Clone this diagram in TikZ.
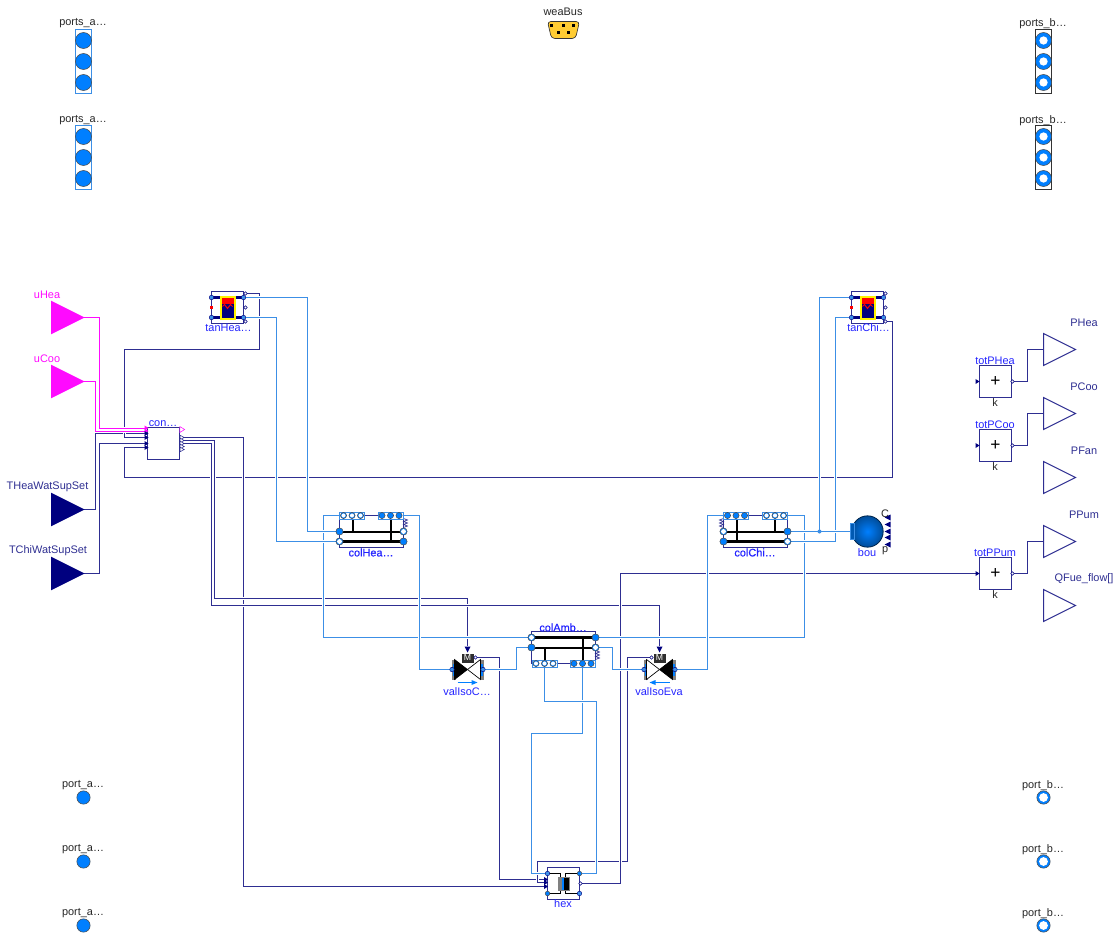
\documentclass[tikz,border=0pt]{standalone}
\usepackage{fontspec}
\setmainfont{Liberation Sans}
\newfontfamily\heavyfont[FakeBold=0.5]{Liberation Sans}
\usetikzlibrary{shapes.geometric}
\pgfdeclarelayer{wires}
\pgfsetlayers{wires,main}
\definecolor{wirenavy}{RGB}{46,46,145}
\definecolor{wireblue}{RGB}{60,143,230}
\definecolor{wiremag}{RGB}{255,10,255}
\definecolor{portblue}{RGB}{0,127,255}
\definecolor{darknavy}{RGB}{0,0,127}
\definecolor{labelblue}{RGB}{35,35,255}
\definecolor{busyellow}{RGB}{255,204,51}
\newcommand{\labelsize}{\fontsize{8.2}{10}\selectfont}
\tikzset{
  bare/.style={inner sep=0pt,outer sep=0pt},
  textlabel/.style={bare,font=\labelsize,text=black!85,xshift=-.35pt},
  bluelabel/.style={bare,font=\labelsize,text=labelblue,xshift=-.35pt},
  navylabel/.style={bare,font=\labelsize,text=wirenavy,xshift=-.35pt},
  maglabel/.style={bare,font=\labelsize,text=wiremag,xshift=-.35pt},
  heavylabel/.style={bare,font=\heavyfont\labelsize,text=labelblue,xshift=-.35pt},
  bigtri/.style={bare,isosceles triangle,isosceles triangle stretches,minimum width=24pt,minimum height=24pt,anchor=apex,line width=.75pt},
  blockbox/.style={bare,draw=wirenavy,fill=white,line width=.75pt,minimum size=24pt},
  stackbox/.style={bare,draw=#1,fill=white,line width=.75pt,minimum width=12pt,minimum height=48pt},
  largefull/.style={bare,circle,draw=black!70,fill=portblue,line width=.4pt,minimum size=#1},
  largeopen/.style={bare,circle,draw=black!70,fill=portblue,line width=.4pt,minimum size=#1,
    path picture={\fill[white] (path picture bounding box.center) circle (.26*#1);}},
  thinopen/.style={bare,circle,draw=black!70,fill=portblue,line width=.4pt,minimum size=#1,
    path picture={\fill[white] (path picture bounding box.center) circle (.33*#1);}},
  sidefull/.style={largefull=5.4pt},
  sideopen/.style={thinopen=5.4pt},
  rowfull/.style={largefull=4.6pt},
  rowopen/.style={thinopen=4.6pt},
  groupbox/.style={bare,draw=wireblue,fill=white,line width=.5pt,minimum width=18.75pt,minimum height=5.2pt},
  inmark/.style={bare,isosceles triangle,isosceles triangle stretches,minimum width=3.8pt,minimum height=3pt,fill=darknavy,anchor=apex},
  magmark/.style={inmark,fill=wiremag},
  outmark/.style={bare,isosceles triangle,isosceles triangle stretches,minimum width=3.2pt,minimum height=3pt,draw=wirenavy,fill=white,line width=.4pt},
  magout/.style={outmark,draw=wiremag,minimum width=4.5pt,minimum height=3.6pt},
  boumark/.style={inmark,shape border rotate=180,minimum width=4.5pt,minimum height=4.5pt},
  tinyport/.style={bare,circle,draw=darknavy,fill=white,line width=.4pt,minimum size=2.6pt},
  tinyblue/.style={bare,circle,draw=darknavy,fill=wireblue,line width=.3pt,minimum size=3.4pt},
  sigline/.style={wirenavy,line width=.75pt,preaction={draw,white,line width=2.25pt}},
  fluidline/.style={wireblue,line width=.75pt,preaction={draw,white,line width=2.25pt}},
  magline/.style={wiremag,line width=.75pt,preaction={draw,white,line width=2.25pt}},
  thinbar/.style={black,line width=1.5pt},
  thickbar/.style={black,line width=2.25pt},
}
\newcommand{\portrow}[4]{%
  \node[groupbox] (#1) at (#2,#3) {};
  \foreach \dx/\pidx in {-8.5/1,0/2,8.5/3}
    \node[#4] (#1\pidx) at (#2+\dx,#3) {};
}
\newcommand{\springmark}[3]{%
  \draw[wirenavy,line width=.5pt,shift={(#1,#2)},xscale=#3] (0,0) -- (4,1.5) -- (0,3) -- (4,4.5) -- (0,6) -- (4,7.5) -- (0,9);
}
\begin{document}
\begin{tikzpicture}[x=0.75pt,y=-0.75pt]
  \useasboundingbox (-.5,-.5) rectangle (1119.5,937.5);

  % fluid port stacks
  \foreach \pname/\py in {portsAOne/61,portsATwo/157} {
    \node[stackbox=wireblue] (\pname) at (83,\py) {};
    \foreach \dy/\pidx in {-21/1,0/2,21/3}
      \node[largefull=12pt] (\pname\pidx) at (83,\py+\dy) {};
  }
  \foreach \pname/\py in {portsBOne/61,portsBTwo/157} {
    \node[stackbox=black!80] (\pname) at (1043,\py) {};
    \foreach \dy/\pidx in {-21/1,0/2,21/3}
      \node[largeopen=12pt] (\pname\pidx) at (1043,\py+\dy) {};
  }
  \node[textlabel] (portsAOneText) at (83,23) {ports\_a…};
  \node[textlabel] (portsATwoText) at (83,120) {ports\_a…};
  \node[textlabel] (portsBOneText) at (1043,23) {ports\_b…};
  \node[textlabel] (portsBTwoText) at (1043,120) {ports\_b…};

  \foreach \py/\pidx in {797/1,861/2,925/3} {
    \node[largefull=10pt] (portA\pidx) at (83,\py) {};
    \node[thinopen=10pt] (portB\pidx) at (1043,\py) {};
    \node[textlabel] (portAText\pidx) at (83,\py-12) {port\_a…};
    \node[textlabel] (portBText\pidx) at (1043,\py-12) {port\_b…};
  }

  % weather bus
  \node[textlabel] (weaBusText) at (563,11) {weaBus};
  \draw[black!80,fill=busyellow,line width=.5pt,rounded corners=2.5pt] (547,21) -- (579,21) -- (575,38) -- (551,38) -- cycle;
  \foreach \bx/\by in {551/25,563/25,573/25,558/32,568/32}
    \fill[black] (\bx-1.5,\by-1.5) rectangle (\bx+1.5,\by+1.5);

  % inputs and outputs
  \node[bigtri,fill=wiremag,draw=wiremag] (uHea) at (83,317) {};
  \node[bigtri,fill=wiremag,draw=wiremag] (uCoo) at (83,381) {};
  \node[bigtri,fill=darknavy,draw=darknavy] (THeaWatSupSet) at (83,509) {};
  \node[bigtri,fill=darknavy,draw=darknavy] (TChiWatSupSet) at (83,573) {};
  \node[maglabel] (uHeaText) at (47,294) {uHea};
  \node[maglabel] (uCooText) at (47,358) {uCoo};
  \node[navylabel] (THeaText) at (47.5,486) {THeaWatSupSet};
  \node[navylabel] (TChiText) at (48,550) {TChiWatSupSet};

  \foreach \oname/\oy/\otext in {PHea/349/PHea,PCoo/413/PCoo,PFan/477/PFan,PPum/541/PPum,QFue/605/QFue\_flow[]} {
    \node[bigtri,draw=wirenavy,fill=white] (\oname) at (1075,\oy) {};
    \node[navylabel] (\oname Text) at (1084,\oy-27) {\otext};
  }

  \foreach \sname/\sy in {totPHea/381,totPCoo/445,totPPum/573} {
    \node[blockbox,font=\fontsize{13}{13}\selectfont] (\sname) at (995,\sy) {+};
    \node[bluelabel] (\sname Text) at (995,\sy-21) {\sname};
    \node[textlabel] (\sname Gain) at (995,\sy+21) {k};
    \node[inmark] (\sname In) at (979,\sy) {};
    \node[tinyport] (\sname Out) at (1012,\sy) {};
  }

  % controller
  \node[blockbox] (con) at (163,443) {};
  \node[bluelabel] (conText) at (163,423) {con…};
  \foreach \iy/\pidx in {427.5/1,430.5/2} \node[magmark] (conIn\pidx) at (148,\iy) {};
  \foreach \iy/\pidx in {433/3,437/4,443/5,447/6} \node[inmark] (conIn\pidx) at (148,\iy) {};
  \node[magout] (conMag) at (181,429) {};
  \foreach \iy/\pidx in {437/1,440/2,443/3,446/4,449/5} \node[outmark] (conOut\pidx) at (181,\iy) {};

  % storage tanks
  \foreach \tname/\tx/\ttext in {tanHea/227/tanHea…,tanChi/867/tanChi…} {
    \begin{scope}[shift={(\tx,307)}]
      \node[blockbox] (\tname) at (0,0) {};
      \draw[darknavy,line width=2.2pt] (-16,-10) -- (16,-10) (-16,10) -- (16,10);
      \filldraw[draw=yellow,fill=darknavy,line width=1.5pt] (-7,-11) rectangle (7,11);
      \fill[red] (-6,-10) rectangle (6,-4);
      \draw[red,line width=.7pt] (-5,-1) -- (-3,-3) -- (0,1) -- (3,-3) -- (5,-1);
      \node[tinyblue] (\tname B1) at (-16,-10) {};
      \node[tinyblue] (\tname B2) at (-16,10) {};
      \node[tinyblue] (\tname A1) at (16,-10) {};
      \node[tinyblue] (\tname A2) at (16,10) {};
      \node[bare,fill=red,minimum size=1.8pt] (\tname Heat) at (-16,0) {};
      \node[tinyport] (\tname Out1) at (18,-14) {};
      \node[tinyport] (\tname Out2) at (18,0) {};
      \node[tinyport] (\tname Out3) at (18,14) {};
      \node[bluelabel] (\tname Text) at (1.5,20) {\ttext};
    \end{scope}
  }

  % heating column
  \draw[wirenavy,line width=.75pt] (339,515) rectangle (403,547);
  \draw[thinbar] (339,531) -- (403,531) (352,515) -- (352,531);
  \draw[thickbar] (339,541) -- (403,541);
  \draw[thinbar] (390,515) -- (390,541);
  \springmark{403}{518}{1}
  \portrow{colHeaTopA}{351.5}{515}{rowopen}
  \portrow{colHeaTopB}{390}{515}{rowfull}
  \node[sidefull] (colHeaA1) at (339,531) {};
  \node[sideopen] (colHeaB1) at (339,541) {};
  \node[sideopen] (colHeaA2) at (403,531) {};
  \node[sidefull] (colHeaB2) at (403,541) {};
  \node[heavylabel] (colHeaText) at (371,552) {colHea…};

  % chilled water column
  \draw[wirenavy,line width=.75pt] (723,515) rectangle (787,547);
  \draw[thinbar] (723,531) -- (787,531) (774,515) -- (774,531);
  \draw[thickbar] (723,541) -- (787,541);
  \draw[thinbar] (736,515) -- (736,541);
  \springmark{723}{518}{-1}
  \portrow{colChiTopA}{735.5}{515}{rowfull}
  \portrow{colChiTopB}{774.5}{515}{rowopen}
  \node[sideopen] (colChiA1) at (723,531) {};
  \node[sidefull] (colChiB1) at (723,541) {};
  \node[sidefull] (colChiA2) at (787,531) {};
  \node[sideopen] (colChiB2) at (787,541) {};
  \node[heavylabel] (colChiText) at (755,552) {colChi…};

  % ambient column
  \draw[wirenavy,line width=.75pt] (531,631) rectangle (595,663);
  \draw[thickbar] (531,637) -- (595,637);
  \draw[thinbar] (531,647) -- (595,647) (544,647) -- (544,663);
  \draw[thinbar] (582,637) -- (582,663);
  \springmark{595}{650}{1}
  \portrow{colAmbBotA}{544}{663}{rowopen}
  \portrow{colAmbBotB}{582}{663}{rowfull}
  \node[sideopen] (colAmbA1) at (531,637) {};
  \node[sidefull] (colAmbB1) at (531,647) {};
  \node[sidefull] (colAmbA2) at (595,637) {};
  \node[sideopen] (colAmbB2) at (595,647) {};
  \node[heavylabel] (colAmbText) at (563,627) {colAmb…};

  % isolation valves
  \foreach \vname/\vx/\vflip/\vtext in {valIsoCon/467/1/valIsoC…,valIsoEva/659/-1/valIsoEva} {
    \begin{scope}[shift={(\vx,669)},xscale=\vflip]
      \fill[gray] (-16,-10) rectangle (-12,10);
      \fill[gray] (12,-10) rectangle (16,10);
      \fill[portblue] (-15,-6) rectangle (-12,6);
      \fill[portblue] (12,-6) rectangle (15,6);
      \filldraw[black,line width=.5pt] (0,0) -- (-13,-10) -- (-13,10) -- cycle;
      \draw[black,fill=white,line width=.5pt] (0,0) -- (13,-10) -- (13,10) -- cycle;
      \node[bare,fill=black!82,text=white,font=\fontsize{6.5}{6.5}\selectfont,minimum width=9pt,minimum height=6.75pt] (\vname Motor) at (0,-11.5) {M};
      \fill[darknavy] (-3,-23) -- (3,-23) -- (0,-17) -- cycle;
      \node[bare,minimum size=.5pt] (\vname In) at (0,-23) {};
      \node[tinyport] (\vname Out) at (8,-12) {};
      \node[tinyblue] (\vname A) at (-15.5,0) {};
      \node[tinyblue] (\vname B) at (15.5,0) {};
      \draw[portblue,line width=.75pt] (-10,13) -- (7,13);
      \fill[portblue] (10,13) -- (4,10.5) -- (4,15.5) -- cycle;
      \node[bluelabel] (\vname Text) at (0,22) {\vtext};
    \end{scope}
  }

  % heat exchanger
  \node[blockbox] (hex) at (563,883) {};
  \draw[black,line width=.75pt] (547,873) -- (560,873) -- (560,877) (547,893) -- (560,893) -- (560,889) (579,873) -- (565,873) -- (565,877) (579,893) -- (565,893) -- (565,889);
  \fill[gray] (557,876) rectangle (569,890);
  \fill[black] (561,877) rectangle (568,889);
  \fill[portblue] (561,877) rectangle (563,889);
  \node[tinyblue] (hexA1) at (547,873) {};
  \node[sidefull,minimum size=3.4pt] (hexB2) at (547,893) {};
  \node[sidefull,minimum size=3.4pt] (hexB1) at (579,873) {};
  \node[tinyblue] (hexA2) at (579,893) {};
  \node[inmark] (hexIn1) at (547.5,879) {};
  \node[inmark] (hexIn2) at (547.5,882) {};
  \node[inmark] (hexIn3) at (547.5,886) {};
  \node[tinyport] (hexOut) at (580,883) {};
  \node[bluelabel] (hexText) at (563,903) {hex};

  % boundary
  \node[bare,circle,minimum size=23.5pt,draw=portblue!30!black,line width=.6pt,inner color=portblue,outer color=portblue!60!black] (bou) at (867,531) {};
  \node[bare,draw=wireblue,fill=portblue!70!black,line width=.4pt,minimum width=3pt,minimum height=12pt] (bouPort) at (852,531) {};
  \foreach \iy/\pidx in {517/1,524/2,531/3,537/4,544/5}
    \node[boumark] (bouIn\pidx) at (884,\iy) {};
  \node[textlabel] (bouC) at (885,513) {C};
  \node[textlabel] (bouP) at (885,550) {p};
  \node[bluelabel] (bouText) at (867,552) {bou};
  \node[bare,circle,fill=wireblue,minimum size=3pt] (bouJoin) at (819,531) {};

  \begin{pgfonlayer}{wires}
    % signals
    \draw[sigline] (tanChiOut3) -- (892,321) -- (892,477) -- (124,477) -- (124,447) -- (conIn6);
    \draw[sigline] (THeaWatSupSet.apex) -- (95,509) -- (95,433) -- (conIn3);
    \draw[sigline] (TChiWatSupSet.apex) -- (99,573) -- (99,443) -- (conIn5);
    \draw[sigline] (tanHeaOut1) -- (259,293) -- (259,349) -- (124,349) -- (124,437) -- (conIn4);
    \draw[magline] (uHea.apex) -- (99,317) -- (99,427.5) -- (conIn1);
    \draw[magline] (uCoo.apex) -- (95,381) -- (95,430.5) -- (conIn2);
    \draw[sigline] (conOut1) -- (243,437) -- (243,886) -- (hexIn3);
    \draw[sigline] (conOut2) -- (214,440) -- (214,598) -- (467,598) -- (valIsoConIn);
    \draw[sigline] (conOut3) -- (211,443) -- (211,605) -- (659,605) -- (valIsoEvaIn);
    \draw[sigline] (valIsoConOut) -- (499,657) -- (499,879) -- (hexIn1);
    \draw[sigline] (valIsoEvaOut) -- (627,657) -- (627,861) -- (537,861) -- (537,882) -- (hexIn2);
    \draw[sigline] (hexOut) -- (620,883) -- (620,573) -- (totPPumIn);
    \draw[sigline] (totPHeaOut) -- (1027,381) -- (1027,349) -- (PHea.lower side);
    \draw[sigline] (totPCooOut) -- (1027,445) -- (1027,413) -- (PCoo.lower side);
    \draw[sigline] (totPPumOut) -- (1027,573) -- (1027,541) -- (PPum.lower side);
    % fluid loops
    \draw[fluidline] (colHeaTopA) -- (323,515) -- (323,637) -- (colAmbA1);
    \draw[fluidline] (colHeaTopB) -- (419,515) -- (419,669) -- (valIsoConA);
    \draw[fluidline] (tanHeaA1) -- (307,297) -- (307,531) -- (colHeaA1);
    \draw[fluidline] (tanHeaA2) -- (276,317) -- (276,541) -- (colHeaB1);
    \draw[fluidline] (colAmbA2) -- (804,637) -- (804,515) -- (colChiTopB);
    \draw[fluidline] (colChiTopA) -- (707,515) -- (707,669) -- (valIsoEvaA);
    \draw[fluidline] (colAmbB1) -- (516,647) -- (516,669) -- (valIsoConB);
    \draw[fluidline] (colAmbB2) -- (612,647) -- (612,669) -- (valIsoEvaB);
    \draw[fluidline] (colAmbBotB) -- (582,733) -- (531,733) -- (531,873) -- (hexA1);
    \draw[fluidline] (colAmbBotA) -- (544,701) -- (596,701) -- (596,873) -- (hexB1);
    \draw[fluidline] (tanChiB1) -- (819,297) -- (bouJoin);
    \draw[fluidline] (tanChiB2) -- (835,317) -- (835,541) -- (colChiB2);
    \draw[fluidline] (colChiA2) -- (bouPort);
  \end{pgfonlayer}
\end{tikzpicture}
\end{document}
